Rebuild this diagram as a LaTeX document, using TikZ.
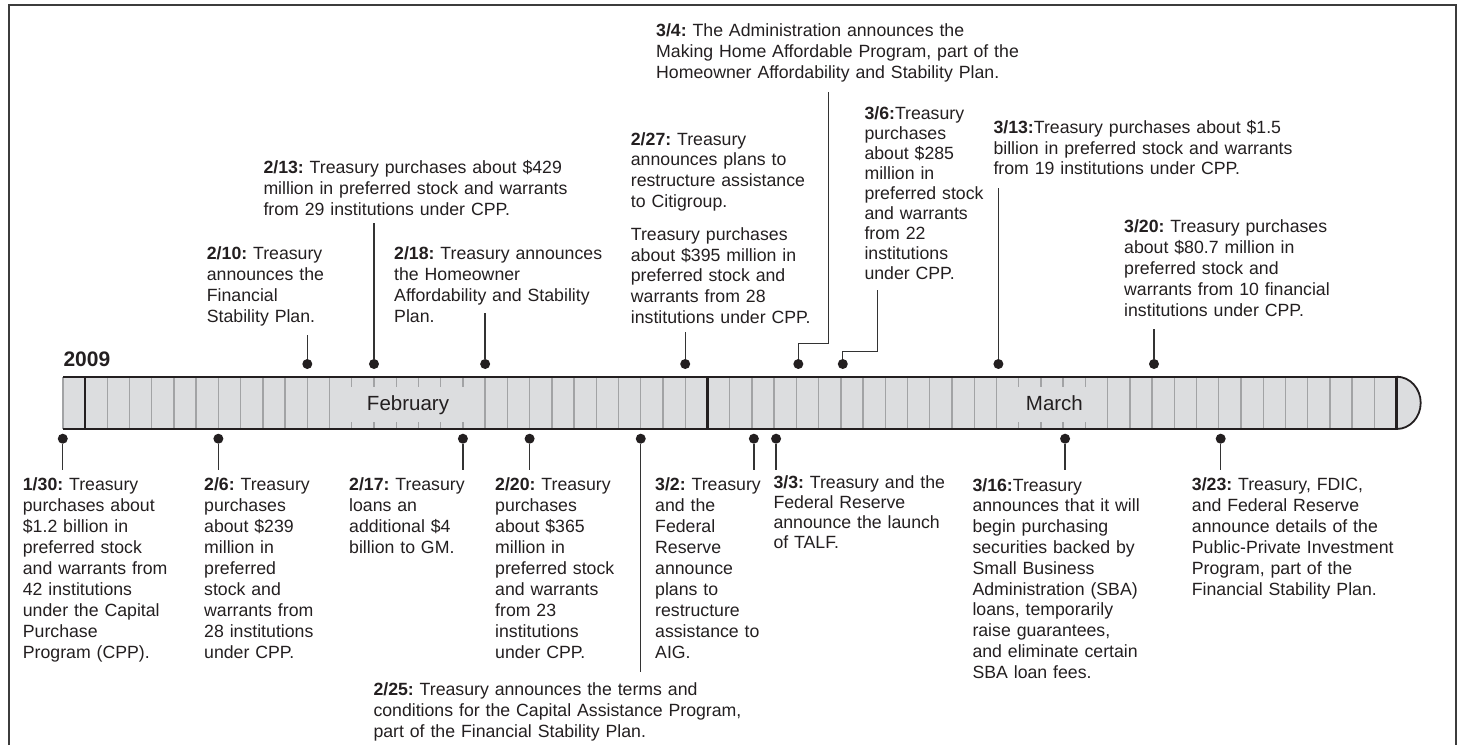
\documentclass[tikz,border=0pt]{standalone}
\usepackage{fontspec}
\setmainfont{Liberation Sans}
\usepackage{xcolor}
\usepackage{tikz}
\usetikzlibrary{shapes,arrows}
\frenchspacing

\definecolor{barfill}{HTML}{DCDDDF}
\definecolor{tickgray}{HTML}{A2A3A5}
\definecolor{inkdark}{HTML}{231F20}
\definecolor{stemgray}{HTML}{333333}
\definecolor{framegray}{HTML}{3C3C3C}

\begin{document}
\begin{tikzpicture}[x=1pt, y=-1pt,
  notetext/.style={anchor=base west, align=left, text width=420pt, inner sep=0pt, text=inkdark, font=\fontsize{17.7}{21}\selectfont},
  daydot/.style={circle, fill=inkdark, inner sep=0pt, minimum size=10pt},
  daystem/.style={draw=stemgray, line width=1.3pt},
  daytick/.style={draw=tickgray, line width=1.4pt},
  rim/.style={draw=inkdark, line width=2.4pt},
  monthlbl/.style={fill=barfill, anchor=base, text height=15pt, text depth=4pt, inner xsep=20pt, inner ysep=8pt, text=inkdark, font=\fontsize{20.5}{24}\selectfont}]
\useasboundingbox (0,0) rectangle (1462,745);
\draw[framegray, line width=1.5pt] (9,745) -- (9,5) -- (1456,5) -- (1456,745);

% the bar
\fill[barfill] (63,376.7) rectangle (1396.7,429);
\filldraw[fill=barfill, rim, line width=1.8pt] (1396.7,376.7) arc[start angle=90, end angle=-90, x radius=24pt, y radius=26.15pt];
\foreach \k in {1,...,58}
  \draw[daytick] (85+\k*22.23,376.7) -- (85+\k*22.23,429);
\node[monthlbl] (feb) at (408,410) {February};
\node[monthlbl] (mar) at (1054.4,410) {March};
\draw[daytick] (63,376.7) -- (63,429);
\draw[rim] (63,376.7) -- (1396.7,376.7);
\draw[rim] (63,429) -- (1396.7,429);
\foreach \k in {0,28,59}
  \draw[rim] (85+\k*22.23,376.7) -- (85+\k*22.23,429);
\node[anchor=base west, inner sep=0pt, text=inkdark, font=\fontsize{21}{24}\selectfont\bfseries] (year) at (63.3,366.7) {2009};

% dots below
\node[daydot] (d130) at (85-1*22.23,438.7) {};
\node[daydot] (d206) at (85+6*22.23,438.7) {};
\node[daydot] (d217) at (85+17*22.23,438.7) {};
\node[daydot] (d220) at (85+20*22.23,438.7) {};
\node[daydot] (d225) at (85+25*22.23,438.7) {};
\node[daydot] (d302) at (709.4+2*22.23,438.7) {};
\node[daydot] (d303) at (709.4+3*22.23,438.7) {};
\node[daydot] (d316) at (709.4+16*22.23,438.7) {};
\node[daydot] (d323) at (709.4+23*22.23,438.7) {};

% dots above
\node[daydot] (d210) at (85+10*22.23,364) {};
\node[daydot] (d213) at (85+13*22.23,364) {};
\node[daydot] (d218) at (85+18*22.23,364) {};
\node[daydot] (d227) at (85+27*22.23,364) {};
\node[daydot] (d304) at (709.4+4*22.23,364) {};
\node[daydot] (d306) at (709.4+6*22.23,364) {};
\node[daydot] (d313) at (709.4+13*22.23,364) {};
\node[daydot] (d320) at (709.4+20*22.23,364) {};

% stems
\coordinate (low) at (0,470);
\coordinate (low225) at (0,671.7);
\draw[daystem] (d130) -- (d130 |- low);
\draw[daystem] (d206) -- (d206 |- low);
\draw[daystem] (d217) -- (d217 |- low);
\draw[daystem] (d220) -- (d220 |- low);
\draw[daystem] (d225) -- (d225 |- low225);
\draw[daystem] (d302) -- (d302 |- low);
\draw[daystem] (d303) -- (d303 |- low);
\draw[daystem] (d316) -- (d316 |- low);
\draw[daystem] (d323) -- (d323 |- low);

\coordinate (up210) at (85+10*22.23,335);
\coordinate (up213) at (85+13*22.23,223.3);
\coordinate (up218) at (85+18*22.23,313);
\coordinate (up227) at (85+27*22.23,331.7);
\coordinate (knee304) at (828.7,343.3);
\coordinate (up304) at (828.7,91.7);
\coordinate (knee306) at (877.7,351.7);
\coordinate (up306) at (877.7,290);
\coordinate (up313) at (709.4+13*22.23,188);
\coordinate (up320) at (709.4+20*22.23,329);
\draw[daystem] (d210) -- (up210);
\draw[daystem] (d213) -- (up213);
\draw[daystem] (d218) -- (up218);
\draw[daystem] (d227) -- (up227);
\draw[daystem] (d304) |- (knee304) -- (up304);
\draw[daystem] (d306) |- (knee306) -- (up306);
\draw[daystem] (d313) -- (up313);
\draw[daystem] (d320) -- (up320);

% texts below
\node[notetext] (t130) at (22.7,490.7) {\textbf{1/30:} Treasury\\purchases about\\\$1.2 billion in\\preferred stock\\and warrants from\\42 institutions\\under the Capital\\Purchase\\Program (CPP).};
\node[notetext] (t206) at (204,490.7) {\textbf{2/6:} Treasury\\purchases\\about \$239\\million in\\preferred\\stock and\\warrants from\\28 institutions\\under CPP.};
\node[notetext] (t217) at (349,490.7) {\textbf{2/17:} Treasury\\loans an\\additional \$4\\billion to GM.};
\node[notetext] (t220) at (495,490.7) {\textbf{2/20:} Treasury\\purchases\\about \$365\\million in\\preferred stock\\and warrants\\from 23\\institutions\\under CPP.};
\node[notetext] (t225) at (373.3,695) {\textbf{2/25:} Treasury announces the terms and\\conditions for the Capital Assistance Program,\\part of the Financial Stability Plan.};
\node[notetext] (t302) at (655,490.7) {\textbf{3/2:} Treasury\\and the\\Federal\\Reserve\\announce\\plans to\\restructure\\assistance to\\AIG.};
\node[notetext, font=\fontsize{17.7}{20}\selectfont] (t303) at (773.3,488.3) {\textbf{3/3:} Treasury and the\\Federal Reserve\\announce the launch\\of TALF.};
\node[notetext, font=\fontsize{17.7}{20.8}\selectfont] (t316) at (972.3,491) {\textbf{3/16:}Treasury\\announces that it will\\begin purchasing\\securities backed by\\Small Business\\Administration (SBA)\\loans, temporarily\\raise guarantees,\\and eliminate certain\\SBA loan fees.};
\node[notetext] (t323) at (1191.7,490) {\textbf{3/23:} Treasury, FDIC,\\and Federal Reserve\\announce details of the\\Public-Private Investment\\Program, part of the\\Financial Stability Plan.};

% texts above
\node[notetext] (t210) at (206.7,259.3) {\textbf{2/10:} Treasury\\announces the\\Financial\\Stability Plan.};
\node[notetext] (t213) at (263.3,173.3) {\textbf{2/13:} Treasury purchases about \$429\\million in preferred stock and warrants\\from 29 institutions under CPP.};
\node[notetext] (t218) at (394,259.3) {\textbf{2/18:} Treasury announces\\the Homeowner\\Affordability and Stability\\Plan.};
\node[notetext, font=\fontsize{17.7}{20.8}\selectfont] (t227) at (630.7,145) {\textbf{2/27:} Treasury\\announces plans to\\restructure assistance\\to Citigroup.\\[12pt]Treasury purchases\\about \$395 million in\\preferred stock and\\warrants from 28\\institutions under CPP.};
\node[notetext, font=\fontsize{17.7}{20.8}\selectfont] (t304) at (656,36.7) {\textbf{3/4:} The Administration announces the\\Making Home Affordable Program, part of the\\Homeowner Affordability and Stability Plan.};
\node[notetext, font=\fontsize{17.7}{20}\selectfont] (t306) at (864.3,119) {\textbf{3/6:}Treasury\\purchases\\about \$285\\million in\\preferred stock\\and warrants\\from 22\\institutions\\under CPP.};
\node[notetext, font=\fontsize{17.7}{20.8}\selectfont] (t313) at (993.3,133.3) {\textbf{3/13:}Treasury purchases about \$1.5\\billion in preferred stock and warrants\\from 19 institutions under CPP.};
\node[notetext] (t320) at (1124,232.3) {\textbf{3/20:} Treasury purchases\\about \$80.7 million in\\preferred stock and\\warrants from 10 financial\\institutions under CPP.};
\end{tikzpicture}
\end{document}
